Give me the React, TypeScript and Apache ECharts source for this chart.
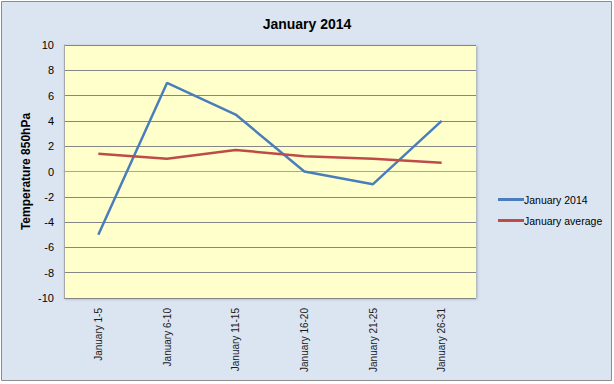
import React, { useEffect, useRef } from "react";
import * as echarts from "echarts";

const categories = [
  "January 1-5",
  "January 6-10",
  "January 11-15",
  "January 16-20",
  "January 21-25",
  "January 26-31",
];
const jan2014 = [-5, 7, 4.5, 0, -1, 4];
const janAverage = [1.4, 1.0, 1.7, 1.2, 1.0, 0.7];
const seriesNames = ["January 2014", "January average"];
const titleText = "January 2014";
const yAxisName = "Temperature 850hPa";

const FONT = "'Liberation Sans', Arial, sans-serif";

export default function App() {
  const ref = useRef<HTMLDivElement>(null);
  useEffect(() => {
    if (!ref.current) return;
    const chart = echarts.init(ref.current, undefined, { renderer: "svg" });
    chart.setOption({
      animation: false,
      backgroundColor: "#ffffff",
      graphic: [
        {
          type: "rect",
          z: -10,
          silent: true,
          shape: { x: 1.5, y: 1.5, width: 610, height: 379 },
          style: { fill: "#dbe5f1", stroke: "#8c8c8c", lineWidth: 1 },
        },
      ],
      title: {
        text: titleText,
        left: "center",
        top: 12,
        textStyle: { fontFamily: FONT, fontSize: 14, fontWeight: "bold", color: "#000" },
      },
      legend: {
        orient: "vertical",
        left: 493,
        top: 189,
        itemWidth: 26,
        itemHeight: 3,
        itemGap: 10,
        icon: "rect",
        data: seriesNames,
        textStyle: { fontFamily: FONT, fontSize: 10.5, color: "#000", padding: [0, 0, 0, -5] },
      },
      grid: {
        left: 64,
        top: 45,
        right: 138,
        bottom: 86,
        show: true,
        backgroundColor: "#ffffcc",
        borderWidth: 0,
        shadowColor: "rgba(0,0,0,0.3)",
        shadowBlur: 3,
        shadowOffsetX: 1,
        shadowOffsetY: 1,
      },
      xAxis: {
        type: "category",
        data: categories,
        boundaryGap: true,
        axisLine: { show: true, lineStyle: { color: "#a6a6a6", width: 1 } },
        axisTick: { show: false },
        axisLabel: {
          rotate: 90,
          margin: 10,
          fontFamily: FONT,
          fontSize: 10,
          color: "#1a1a1a",
          interval: 0,
        },
      },
      yAxis: {
        type: "value",
        min: -10,
        max: 10,
        interval: 2,
        name: yAxisName,
        nameLocation: "middle",
        nameRotate: 90,
        nameGap: 32,
        nameMoveOverlap: false,
        nameTextStyle: { fontFamily: FONT, fontSize: 12, fontWeight: "bold", color: "#000" },
        axisLine: { show: true, lineStyle: { color: "#a6a6a6", width: 1 } },
        axisTick: { show: false },
        axisLabel: { fontFamily: FONT, fontSize: 11, color: "#000", margin: 10 },
        splitLine: { show: true, lineStyle: { color: "#868686", width: 1 } },
      },
      series: [
        {
          name: seriesNames[0],
          type: "line",
          data: jan2014,
          showSymbol: false,
          symbol: "none",
          lineStyle: { color: "#4a7ebb", width: 2.5 },
          itemStyle: { color: "#4a7ebb" },
        },
        {
          name: seriesNames[1],
          type: "line",
          data: janAverage,
          showSymbol: false,
          symbol: "none",
          lineStyle: { color: "#be4b48", width: 2.5 },
          itemStyle: { color: "#be4b48" },
        },
      ],
    });
    return () => chart.dispose();
  }, []);
  return (
    <div
      ref={ref}
      style={{ position: "fixed", left: 0, top: 0, width: 614, height: 384 }}
    />
  );
}
